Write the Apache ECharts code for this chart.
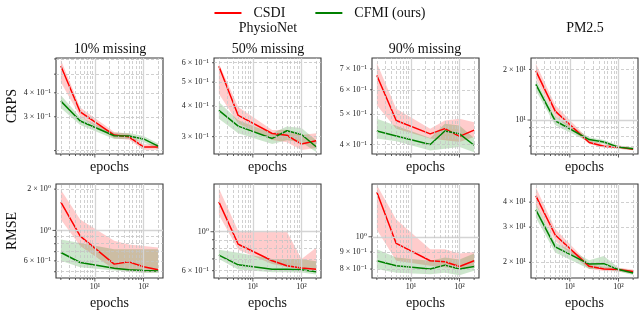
<!DOCTYPE html>
<html>
<head>
<meta charset="utf-8">
<script src="https://cdn.jsdelivr.net/npm/echarts@6/dist/echarts.min.js"></script>
<style>html,body{margin:0;padding:0;background:#fff}#c{width:640px;height:311px}</style>
</head>
<body>
<div id="c"></div>
<script>
// ---- data ----
const epochs = [2, 5, 25, 50, 100, 200];
const seriesNames = ['CSDI', 'CFMI (ours)'];
const rowNames = ['CRPS', 'RMSE'];
const colTitles = ['10% missing', '50% missing', '90% missing', ''];
const groupTitles = ['PhysioNet', 'PM2.5'];

// PhysioNet 10% CRPS
const crps10_csdi = [0.551, 0.318, 0.241, 0.236, 0.209, 0.209];
const crps10_csdi_lo = [0.454, 0.300, 0.232, 0.228, 0.202, 0.202];
const crps10_csdi_hi = [0.594, 0.335, 0.250, 0.245, 0.216, 0.216];
const crps10_cfmi = [0.362, 0.285, 0.239, 0.238, 0.230, 0.211];
const crps10_cfmi_lo = [0.333, 0.272, 0.230, 0.230, 0.222, 0.203];
const crps10_cfmi_hi = [0.388, 0.298, 0.248, 0.247, 0.238, 0.218];
const crps10_range = [0.192, 0.607];
const crps10_ticks = [0.2, 0.3, 0.4, 0.5, 0.6];
const crps10_labels = ['', '3 × 10⁻¹', '4 × 10⁻¹', '', ''];

// PhysioNet 50% CRPS
const crps50_csdi = [0.580, 0.366, 0.309, 0.304, 0.280, 0.289];
const crps50_csdi_lo = [0.448, 0.339, 0.291, 0.285, 0.265, 0.270];
const crps50_csdi_hi = [0.596, 0.396, 0.319, 0.320, 0.305, 0.310];
const crps50_cfmi = [0.384, 0.331, 0.295, 0.317, 0.306, 0.273];
const crps50_cfmi_lo = [0.355, 0.310, 0.280, 0.290, 0.285, 0.260];
const crps50_cfmi_hi = [0.415, 0.350, 0.310, 0.330, 0.325, 0.290];
const crps50_range = [0.255, 0.627];
const crps50_ticks = [0.3, 0.4, 0.5, 0.6];
const crps50_labels = ['3 × 10⁻¹', '4 × 10⁻¹', '5 × 10⁻¹', '6 × 10⁻¹'];

// PhysioNet 90% CRPS
const crps90_csdi = [0.667, 0.478, 0.433, 0.450, 0.425, 0.445];
const crps90_csdi_lo = [0.535, 0.450, 0.418, 0.413, 0.408, 0.423];
const crps90_csdi_hi = [0.731, 0.521, 0.450, 0.478, 0.484, 0.472];
const crps90_cfmi = [0.442, 0.426, 0.400, 0.442, 0.433, 0.398];
const crps90_cfmi_lo = [0.418, 0.410, 0.383, 0.388, 0.393, 0.378];
const crps90_cfmi_hi = [0.484, 0.460, 0.420, 0.467, 0.461, 0.420];
const crps90_range = [0.373, 0.759];
const crps90_ticks = [0.4, 0.5, 0.6, 0.7];
const crps90_labels = ['4 × 10⁻¹', '5 × 10⁻¹', '6 × 10⁻¹', '7 × 10⁻¹'];

// PM2.5 CRPS
const crpsPM_csdi = [19.6, 11.3, 7.35, 6.98, 6.90, 6.70];
const crpsPM_csdi_lo = [17.7, 10.5, 7.20, 6.85, 6.75, 6.60];
const crpsPM_csdi_hi = [21.7, 12.3, 7.60, 7.15, 7.05, 6.85];
const crpsPM_cfmi = [16.3, 9.9, 7.65, 7.41, 6.90, 6.75];
const crpsPM_cfmi_lo = [15.0, 9.3, 7.40, 7.20, 6.75, 6.60];
const crpsPM_cfmi_hi = [17.5, 10.5, 7.90, 7.60, 7.05, 6.90];
const crpsPM_range = [6.28, 23.4];
const crpsPM_ticks = [7, 8, 9, 10, 20];
const crpsPM_labels = ['', '', '', '10¹', '2 × 10¹'];

// PhysioNet 10% RMSE
const rmse10_csdi = [1.61, 0.91, 0.568, 0.59, 0.543, 0.517];
const rmse10_csdi_lo = [1.20, 0.77, 0.52, 0.51, 0.495, 0.495];
const rmse10_csdi_hi = [1.98, 1.20, 0.84, 0.79, 0.77, 0.75];
const rmse10_cfmi = [0.69, 0.584, 0.531, 0.517, 0.511, 0.506];
const rmse10_cfmi_lo = [0.60, 0.54, 0.51, 0.50, 0.49, 0.49];
const rmse10_cfmi_hi = [0.86, 0.81, 0.73, 0.73, 0.73, 0.73];
const rmse10_range = [0.45, 2.18];
const rmse10_ticks = [0.5, 0.6, 0.7, 0.8, 0.9, 1, 2];
const rmse10_labels = ['', '6 × 10⁻¹', '', '', '', '10⁰', '2 × 10⁰'];

// PhysioNet 50% RMSE
const rmse50_csdi = [1.48, 0.848, 0.683, 0.64, 0.621, 0.612];
const rmse50_csdi_lo = [1.25, 0.79, 0.654, 0.63, 0.61, 0.61];
const rmse50_csdi_hi = [1.77, 1.01, 1.01, 1.00, 0.70, 0.81];
const rmse50_cfmi = [0.735, 0.648, 0.612, 0.612, 0.607, 0.592];
const rmse50_cfmi_lo = [0.70, 0.61, 0.587, 0.587, 0.585, 0.57];
const rmse50_cfmi_hi = [0.79, 0.76, 0.70, 0.70, 0.70, 0.68];
const rmse50_range = [0.545, 1.87];
const rmse50_ticks = [0.6, 0.7, 0.8, 0.9, 1];
const rmse50_labels = ['6 × 10⁻¹', '', '', '', '10⁰'];

// PhysioNet 90% RMSE
const rmse90_csdi = [1.36, 0.955, 0.847, 0.841, 0.814, 0.847];
const rmse90_csdi_lo = [1.05, 0.847, 0.818, 0.81, 0.80, 0.82];
const rmse90_csdi_hi = [1.43, 1.126, 0.917, 0.917, 0.89, 0.90];
const rmse90_cfmi = [0.847, 0.818, 0.80, 0.822, 0.80, 0.814];
const rmse90_cfmi_lo = [0.80, 0.78, 0.772, 0.78, 0.767, 0.79];
const rmse90_cfmi_hi = [0.917, 0.866, 0.847, 0.866, 0.855, 0.89];
const rmse90_range = [0.752, 1.44];
const rmse90_ticks = [0.8, 0.9, 1];
const rmse90_labels = ['8 × 10⁻¹', '9 × 10⁻¹', '10⁰'];

// PM2.5 RMSE
const rmsePM_csdi = [43, 27.4, 19.1, 18.5, 18.4, 18.0];
const rmsePM_csdi_lo = [38.8, 25.6, 18.5, 18.1, 18.0, 17.6];
const rmsePM_csdi_hi = [47.5, 29.4, 19.6, 19.0, 18.8, 18.4];
const rmsePM_cfmi = [36.6, 23.9, 19.6, 19.7, 18.4, 17.7];
const rmsePM_cfmi_lo = [33.4, 22.4, 18.5, 18.5, 18.0, 17.3];
const rmsePM_cfmi_hi = [39.5, 25.1, 20.5, 21.5, 18.8, 18.1];
const rmsePM_range = [16.7, 49.3];
const rmsePM_ticks = [20, 30, 40];
const rmsePM_labels = ['2 × 10¹', '3 × 10¹', '4 × 10¹'];

// x axis
const xRange = [1.589, 251.8];
const xTicks = [2, 3, 4, 5, 6, 7, 8, 9, 10, 20, 30, 40, 50, 60, 70, 80, 90, 100, 200];
const xTickLabels = {10: '10¹', 100: '10²'};

// ---- build ----
const panels = [
  [crps10_csdi, crps10_csdi_lo, crps10_csdi_hi, crps10_cfmi, crps10_cfmi_lo, crps10_cfmi_hi, crps10_range, crps10_ticks, crps10_labels],
  [crps50_csdi, crps50_csdi_lo, crps50_csdi_hi, crps50_cfmi, crps50_cfmi_lo, crps50_cfmi_hi, crps50_range, crps50_ticks, crps50_labels],
  [crps90_csdi, crps90_csdi_lo, crps90_csdi_hi, crps90_cfmi, crps90_cfmi_lo, crps90_cfmi_hi, crps90_range, crps90_ticks, crps90_labels],
  [crpsPM_csdi, crpsPM_csdi_lo, crpsPM_csdi_hi, crpsPM_cfmi, crpsPM_cfmi_lo, crpsPM_cfmi_hi, crpsPM_range, crpsPM_ticks, crpsPM_labels],
  [rmse10_csdi, rmse10_csdi_lo, rmse10_csdi_hi, rmse10_cfmi, rmse10_cfmi_lo, rmse10_cfmi_hi, rmse10_range, rmse10_ticks, rmse10_labels],
  [rmse50_csdi, rmse50_csdi_lo, rmse50_csdi_hi, rmse50_cfmi, rmse50_cfmi_lo, rmse50_cfmi_hi, rmse50_range, rmse50_ticks, rmse50_labels],
  [rmse90_csdi, rmse90_csdi_lo, rmse90_csdi_hi, rmse90_cfmi, rmse90_cfmi_lo, rmse90_cfmi_hi, rmse90_range, rmse90_ticks, rmse90_labels],
  [rmsePM_csdi, rmsePM_csdi_lo, rmsePM_csdi_hi, rmsePM_cfmi, rmsePM_cfmi_lo, rmsePM_cfmi_hi, rmsePM_range, rmsePM_ticks, rmsePM_labels]
];

const FONT = '"Liberation Serif", "DejaVu Serif", serif';
const RED = '#ff0000', GREEN = '#008000';
const colLeft = [56, 214, 372, 531];
const rowTop = [58, 184];
const gW = 107, rowH = [96, 95];

const isMajor = v => Math.abs(Math.log10(v) - Math.round(Math.log10(v))) < 1e-9;
const gridStyle = v => isMajor(v)
  ? {type: 'solid', color: '#d4d4d4', width: 1.3, opacity: 1}
  : {type: [3, 2], color: '#c4c4c4', width: 0.8, opacity: 1};

const grid = [], xAxis = [], yAxis = [], series = [];
panels.forEach((p, i) => {
  const row = Math.floor(i / 4), col = i % 4;
  const [cs, csLo, csHi, cf, cfLo, cfHi, yr, yt, yl] = p;
  grid.push({left: colLeft[col], top: rowTop[row], width: gW, height: rowH[row],
    show: true, borderColor: '#3a3a3a', borderWidth: 1.1, backgroundColor: 'transparent'});
  xAxis.push({type: 'log', logBase: 10, gridIndex: i, min: xRange[0], max: xRange[1],
    axisLine: {show: false}, axisTick: {show: false}, axisLabel: {show: false}, splitLine: {show: false},
    name: 'epochs', nameLocation: 'middle', nameGap: row === 0 ? 6 : 18,
    nameTextStyle: {fontFamily: FONT, fontSize: 14, color: '#111', verticalAlign: 'top'}});
  yAxis.push({type: 'log', logBase: 10, gridIndex: i, min: yr[0], max: yr[1],
    axisLine: {show: false}, axisTick: {show: false}, axisLabel: {show: false}, splitLine: {show: false}});

  const ml = [];
  yt.forEach((v, k) => ml.push({yAxis: v, lineStyle: gridStyle(v),
    label: {show: !!yl[k], position: 'start', formatter: yl[k] || ' ', distance: 5,
      fontFamily: FONT, fontSize: 8, color: '#222'}}));
  xTicks.forEach(v => ml.push({xAxis: v, lineStyle: gridStyle(v),
    label: {show: row === 1 && !!xTickLabels[v], position: 'start', formatter: xTickLabels[v] || ' ', distance: 5,
      fontFamily: FONT, fontSize: 8, color: '#222'}}));
  series.push({type: 'line', xAxisIndex: i, yAxisIndex: i, data: [], z: 1, silent: true,
    markLine: {silent: true, symbol: ['none', 'none'], animation: false, data: ml}});

  // tick marks (outward), positioned through the axes
  const tickData = yt.map(v => [xRange[0], v, 0]).concat(xTicks.map(v => [v, yr[0], 1]));
  series.push({type: 'custom', xAxisIndex: i, yAxisIndex: i, z: 4, silent: true, clip: false,
    data: tickData,
    renderItem: (params, api) => {
      const d = tickData[params.dataIndex];
      const pt = api.coord([d[0], d[1]]);
      const len = isMajor(d[d[2] === 0 ? 1 : 0]) ? 3.5 : 2;
      const shape = d[2] === 0
        ? {x1: pt[0], y1: pt[1], x2: pt[0] - len, y2: pt[1]}
        : {x1: pt[0], y1: pt[1], x2: pt[0], y2: pt[1] + len};
      return {type: 'line', shape, style: {stroke: '#333', lineWidth: 0.8}};
    }});

  const band = (lo, hi, color) => ({
    type: 'custom', xAxisIndex: i, yAxisIndex: i, z: 2, silent: true,
    data: epochs.map((e, k) => [e, lo[k], hi[k]]),
    renderItem: (params, api) => {
      if (params.dataIndex !== 0) return null;
      const pts = [];
      for (let k = 0; k < epochs.length; k++) pts.push(api.coord([epochs[k], hi[k]]));
      for (let k = epochs.length - 1; k >= 0; k--) pts.push(api.coord([epochs[k], lo[k]]));
      return {type: 'polygon', shape: {points: pts}, style: {fill: color}};
    }
  });
  series.push(band(csLo, csHi, 'rgba(255,0,0,0.2)'));
  series.push(band(cfLo, cfHi, 'rgba(0,128,0,0.2)'));

  const line = (name, vals, color) => ({
    type: 'line', name, xAxisIndex: i, yAxisIndex: i, z: 3, silent: true,
    data: epochs.map((e, k) => [e, vals[k]]), showSymbol: false, symbol: 'none',
    lineStyle: {color, width: 1.5}, itemStyle: {color}
  });
  series.push(line(seriesNames[0], cs, RED));
  series.push(line(seriesNames[1], cf, GREEN));
});

const txt = (text, x, y, size, rot) => ({type: 'text', x, y, rotation: rot || 0, silent: true,
  style: {text, fontFamily: FONT, fontSize: size, fill: '#111', align: 'center', verticalAlign: 'middle'}});
const graphic = [
  txt(groupTitles[0], 268, 28, 14), txt(groupTitles[1], 585, 28, 14),
  txt(colTitles[0], 110, 49, 14), txt(colTitles[1], 268, 49, 14), txt(colTitles[2], 425, 49, 14),
  txt(rowNames[0], 12, 106, 14, Math.PI / 2), txt(rowNames[1], 12, 231, 14, Math.PI / 2)
];

const chart = echarts.init(document.getElementById('c'), null, {renderer: 'canvas'});
chart.setOption({
  animation: false,
  backgroundColor: '#fff',
  legend: {data: seriesNames, top: 1, left: 'center', icon: 'rect', itemWidth: 27, itemHeight: 2,
    itemGap: 30, selectedMode: false,
    textStyle: {fontFamily: FONT, fontSize: 14, color: '#111', padding: [0, 0, 0, 7]}},
  grid, xAxis, yAxis, series, graphic
});
</script>
</body>
</html>
